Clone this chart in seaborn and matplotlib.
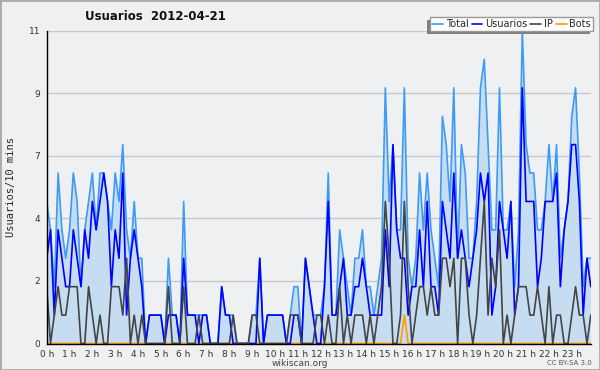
import numpy as np
import pandas as pd
import seaborn as sns
import matplotlib.pyplot as plt
from matplotlib.lines import Line2D
from matplotlib.patches import Rectangle

sns.set_style('white')
plt.rcParams['font.family'] = ['DejaVu Sans']

# valores cada 10 minutos (144 puntos), una fila = 4 horas
usuarios = [3, 4, 1, 4, 3, 2, 2, 4, 3, 2, 4, 3, 5, 4, 5, 6, 5, 2, 4, 3, 6, 1, 3, 4,
            3, 2, 0, 1, 1, 1, 1, 0, 1, 1, 1, 0, 3, 1, 1, 1, 0, 1, 1, 0, 0, 0, 2, 1,
            1, 0, 0, 0, 0, 0, 0, 0, 3, 0, 1, 1, 1, 1, 1, 0, 0, 1, 1, 0, 3, 2, 1, 0,
            0, 2, 5, 1, 1, 2, 3, 1, 1, 2, 2, 3, 2, 1, 1, 1, 1, 4, 2, 7, 4, 3, 3, 1,
            2, 2, 4, 2, 5, 2, 2, 1, 5, 4, 3, 6, 3, 4, 3, 2, 3, 4, 6, 5, 6, 1, 2, 5,
            4, 3, 5, 1, 2, 9, 5, 5, 5, 2, 3, 5, 5, 5, 6, 2, 4, 5, 7, 7, 5, 1, 3, 2]
ip = [2, 0, 1, 2, 1, 1, 2, 2, 2, 0, 0, 2, 1, 0, 1, 0, 0, 2, 2, 2, 1, 3, 0, 1,
      0, 1, 0, 0, 0, 0, 0, 0, 2, 0, 0, 0, 2, 0, 0, 0, 1, 0, 0, 0, 0, 0, 0, 0,
      0, 1, 0, 0, 0, 0, 1, 1, 0, 0, 0, 0, 0, 0, 0, 0, 1, 1, 1, 0, 0, 0, 0, 1,
      1, 0, 1, 0, 0, 2, 0, 1, 0, 1, 1, 1, 0, 1, 0, 1, 2, 5, 3, 0, 0, 1, 5, 2,
      0, 1, 2, 2, 1, 2, 1, 1, 3, 3, 2, 3, 0, 3, 3, 1, 0, 1, 3, 5, 1, 3, 2, 4,
      0, 1, 0, 1, 2, 2, 2, 1, 1, 2, 1, 0, 2, 0, 1, 1, 0, 0, 1, 2, 1, 1, 0, 1]
bots = [0, 0, 0, 0, 0, 0, 0, 0, 0, 0, 0, 0, 0, 0, 0, 0, 0, 0, 0, 0, 0, 0, 0, 0,
        0, 0, 0, 0, 0, 0, 0, 0, 0, 0, 0, 0, 0, 0, 0, 0, 0, 0, 0, 0, 0, 0, 0, 0,
        0, 0, 0, 0, 0, 0, 0, 0, 0, 0, 0, 0, 0, 0, 0, 0, 0, 0, 0, 0, 0, 0, 0, 0,
        0, 0, 0, 0, 0, 0, 0, 0, 0, 0, 0, 0, 0, 0, 0, 0, 0, 0, 0, 0, 0, 0, 1, 0,
        0, 0, 0, 0, 0, 0, 0, 0, 0, 0, 0, 0, 0, 0, 0, 0, 0, 0, 0, 0, 0, 0, 0, 0,
        0, 0, 0, 0, 0, 0, 0, 0, 0, 0, 0, 0, 0, 0, 0, 0, 0, 0, 0, 0, 0, 0, 0, 0]
total = [5, 4, 2, 6, 4, 3, 4, 6, 5, 2, 4, 5, 6, 4, 6, 6, 5, 4, 6, 5, 7, 4, 3, 5,
         3, 3, 0, 1, 1, 1, 1, 0, 3, 1, 1, 0, 5, 1, 1, 1, 1, 1, 1, 0, 0, 0, 2, 1,
         1, 1, 0, 0, 0, 0, 1, 1, 3, 0, 1, 1, 1, 1, 1, 0, 1, 2, 2, 0, 3, 2, 1, 1,
         1, 2, 6, 1, 1, 4, 3, 2, 1, 3, 3, 4, 2, 2, 1, 2, 3, 9, 5, 7, 4, 4, 9, 3,
         2, 3, 6, 4, 6, 4, 3, 2, 8, 7, 5, 9, 3, 7, 6, 3, 3, 5, 9, 10, 7, 4, 4, 9,
         4, 4, 5, 2, 4, 11, 7, 6, 6, 4, 4, 5, 7, 5, 7, 3, 4, 5, 8, 9, 6, 2, 3, 3]
horas = [f"{h} h" for h in range(24)]
ytick_vals = [0, 2.2, 4.4, 6.6, 8.8, 11]
ytick_labels = ['0', '2', '4', '7', '9', '11']

df = pd.DataFrame({'hora': np.arange(len(total)) / 6,
                   'Total': total, 'Usuarios': usuarios, 'IP': ip, 'Bots': bots})

colores = {'Total': '#3d9bf5', 'Usuarios': '#0000ff', 'IP': '#444444', 'Bots': '#ff9a00'}

fig = plt.figure(figsize=(6, 3.7), dpi=100, facecolor='#f0f0f0')
ax = fig.add_axes([46.7 / 600, 1 - 343.5 / 370, (590.8 - 46.7) / 600, (343.5 - 31) / 370])
ax.set_facecolor('#eef0f2')

sns.lineplot(data=df, x='hora', y='Bots', ax=ax, color=colores['Bots'], lw=1.2, zorder=1.6)
sns.lineplot(data=df, x='hora', y='Total', ax=ax, color=colores['Total'], lw=1.2, zorder=2)
sns.lineplot(data=df, x='hora', y='Usuarios', ax=ax, color=colores['Usuarios'], lw=1.2, zorder=2.1)
sns.lineplot(data=df, x='hora', y='IP', ax=ax, color=colores['IP'], lw=1.2, zorder=2.2)
ax.fill_between(df['hora'].to_numpy(), df['Total'].to_numpy(), np.zeros(len(df)),
                facecolor='#c6ddf1', edgecolor='none', alpha=1, zorder=1.2)

ax.set_xlim(0, df['hora'].iloc[-1])
ax.set_ylim(0, 11)
ax.set_xticks(range(24))
ax.set_xticklabels(horas, fontsize=6.5, color='#333333')
ax.set_xticks(np.arange(144) / 6, minor=True)
ax.set_yticks(ytick_vals)
ax.set_yticklabels(ytick_labels, fontsize=6.5, color='#333333')
ax.set_yticks(np.arange(0, 11.01, 0.55), minor=True)
ax.tick_params(which='major', direction='out', length=4, width=1, color='black', pad=0.5)
ax.tick_params(which='minor', direction='out', length=2.5, width=1, color='black')
ax.grid(axis='y', color='#c8c8c8', lw=1, zorder=0.5)
ax.set_axisbelow(True)
for s in ['top', 'right']:
    ax.spines[s].set_visible(False)
for s in ['left', 'bottom']:
    ax.spines[s].set_color('black')
    ax.spines[s].set_linewidth(1)
    ax.spines[s].set_zorder(3)
ax.set_xlabel('')
ax.set_ylabel('Usuarios/10 mins', family='DejaVu Sans Mono', fontsize=7.5, labelpad=9)

fig.text(85 / 600, 1 - 17 / 370, 'Usuarios  2012-04-21', fontsize=8.5, fontweight='bold',
         va='center', ha='left', color='#111111')

handles = [Line2D([], [], color=colores[k], lw=1.2) for k in ['Total', 'Usuarios', 'IP', 'Bots']]
leg = fig.legend(handles, ['Total', 'Usuarios', 'IP', 'Bots'], loc='upper right',
                 bbox_to_anchor=(593 / 600, 1 - 17 / 370), ncol=4, fontsize=7,
                 frameon=True, fancybox=False, borderaxespad=0, borderpad=0.2,
                 handlelength=1.1, handletextpad=0.3, columnspacing=0.3)
leg.get_frame().set_edgecolor('#999999')
leg.get_frame().set_linewidth(1)
leg.get_frame().set_facecolor('white')
leg.get_frame().set_alpha(1)
leg.set_zorder(5)

fig.canvas.draw()
bb = leg.get_frame().get_window_extent()
x0, y0 = fig.transFigure.inverted().transform((bb.x0 - 3, bb.y0 - 3))
x1, y1 = fig.transFigure.inverted().transform((bb.x1 - 3, bb.y1 - 3))
fig.patches.append(Rectangle((x0, y0), x1 - x0, y1 - y0,
                             transform=fig.transFigure, facecolor='#808080',
                             edgecolor='none', zorder=4))

fig.text(0.5, 7 / 370, 'wikiscan.org', fontsize=6.5, ha='center', va='center', color='#444444')
fig.text(592 / 600, 7 / 370, 'CC BY-SA 3.0', fontsize=5, ha='right', va='center', color='#555555')
fig.patches.append(Rectangle((0, 0), 1, 1, transform=fig.transFigure, fill=False,
                             edgecolor='#aaaaaa', lw=2, zorder=10))

fig.savefig('out.png', dpi=100, facecolor=fig.get_facecolor())
